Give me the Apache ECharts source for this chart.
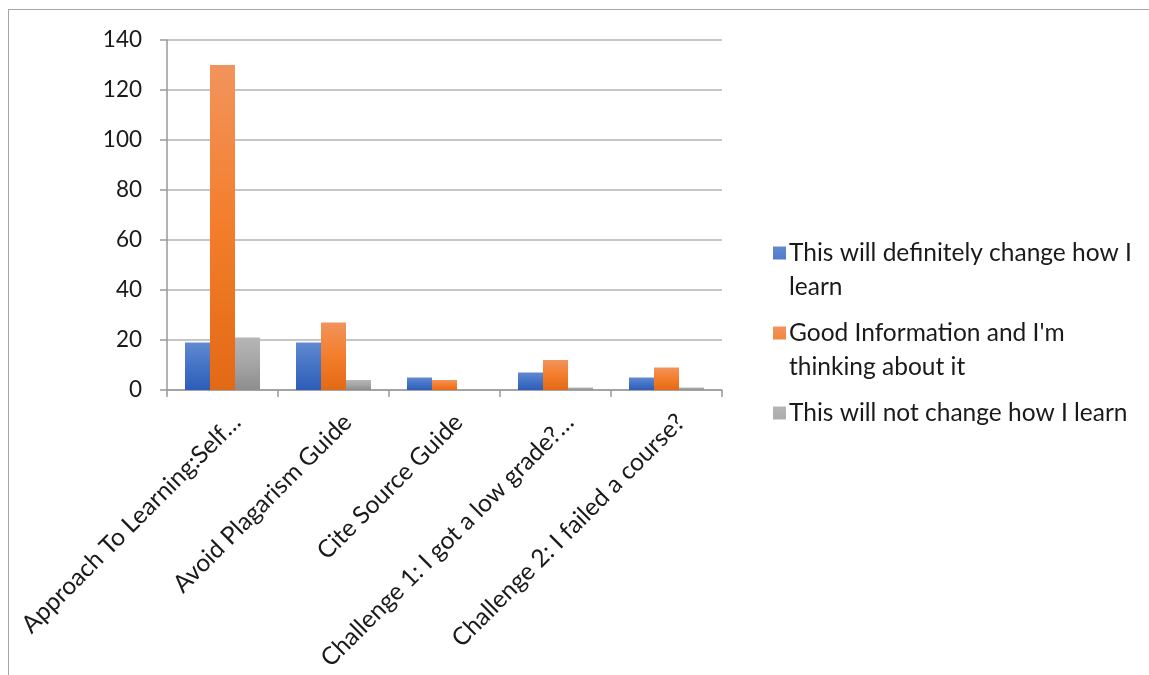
<!DOCTYPE html>
<html>
<head>
<meta charset="utf-8">
<script src="https://cdn.jsdelivr.net/npm/echarts@6/dist/echarts.min.js"></script>
<style>
html,body{margin:0;padding:0;background:#fff;}
#wrap{position:relative;width:1149px;height:675px;overflow:hidden;}
#frame{position:absolute;left:8px;top:9px;right:-2px;bottom:-2px;border-left:1.5px solid #a6a6a6;border-top:1.5px solid #a6a6a6;}
#chart{position:absolute;left:0;top:0;width:1149px;height:675px;}
</style>
</head>
<body>
<div id="wrap"><div id="frame"></div><div id="chart"></div></div>
<script>
const categories = ["Approach To Learning:Self\u2026", "Avoid Plagarism Guide", "Cite Source Guide", "Challenge 1: I got a low grade?\u2026", "Challenge 2: I failed a course?"];
const seriesNames = ["This will definitely change how I learn", "Good Information and I'm thinking about it", "This will not change how I learn"];
const definitelyChange = [19, 19, 5, 7, 5];
const goodInformation = [130, 27, 4, 12, 9];
const notChange = [21, 4, 0, 1, 1];
const yTicks = {min: 0, max: 140, interval: 20};
const legendText = {
  "This will definitely change how I learn": "This will definitely change how I\nlearn",
  "Good Information and I'm thinking about it": "Good Information and I'm\nthinking about it",
  "This will not change how I learn": "This will not change how I learn\n"
};

function grad(c0, c1, c2) {
  return new echarts.graphic.LinearGradient(0, 0, 0, 1, [
    {offset: 0, color: c0}, {offset: 0.5, color: c1}, {offset: 1, color: c2}
  ]);
}
const FONT = 'Lato';
const chart = echarts.init(document.getElementById('chart'), null, {renderer: 'canvas'});
const legendIcon = 'path://M0,0H13V13H0Z M0,46.95H0.05V47H0Z';
chart.setOption({
  animation: false,
  grid: {left: 167, top: 40, width: 555, height: 350, containLabel: false, outerBoundsMode: 'none'},
  legend: {
    orient: 'vertical',
    left: 768,
    top: 231,
    itemWidth: 13,
    itemHeight: 47,
    itemGap: 12,
    icon: legendIcon,
    formatter: n => legendText[n],
    textStyle: {fontFamily: FONT, fontSize: 24.5, color: '#1a1a1a', lineHeight: 34, padding: [0, 0, 0, -2]},
    data: seriesNames
  },
  xAxis: {
    type: 'category',
    data: categories,
    axisLine: {lineStyle: {color: '#999', width: 1.5}},
    axisTick: {show: true, length: 7, lineStyle: {color: '#999', width: 1.5}},
    axisLabel: {rotate: 45, interval: 0, margin: 14, verticalAlign: 'top', lineHeight: 40,
      fontFamily: FONT, fontSize: 24.5, color: '#1a1a1a'}
  },
  yAxis: {
    type: 'value',
    min: yTicks.min, max: yTicks.max, interval: yTicks.interval,
    axisLine: {show: true, lineStyle: {color: '#999', width: 1.5}},
    axisTick: {show: true, length: 7, lineStyle: {color: '#999', width: 1.5}},
    axisLabel: {margin: 25, fontFamily: FONT, fontSize: 22.5, color: '#1a1a1a'},
    splitLine: {lineStyle: {color: '#b3b3b3', width: 1.5}}
  },
  series: [
    {name: seriesNames[0], type: 'bar', data: definitelyChange, barWidth: 25, barGap: '0%',
     itemStyle: {color: grad('#6189D1', '#4472C4', '#2E5DBA')}},
    {name: seriesNames[1], type: 'bar', data: goodInformation, barWidth: 25, barGap: '0%',
     itemStyle: {color: grad('#F1945C', '#F47D2B', '#E26A16')}},
    {name: seriesNames[2], type: 'bar', data: notChange, barWidth: 25, barGap: '0%',
     itemStyle: {color: grad('#B6B6B6', '#A5A5A5', '#8D8D8D')}}
  ]
});
</script>
</body>
</html>
